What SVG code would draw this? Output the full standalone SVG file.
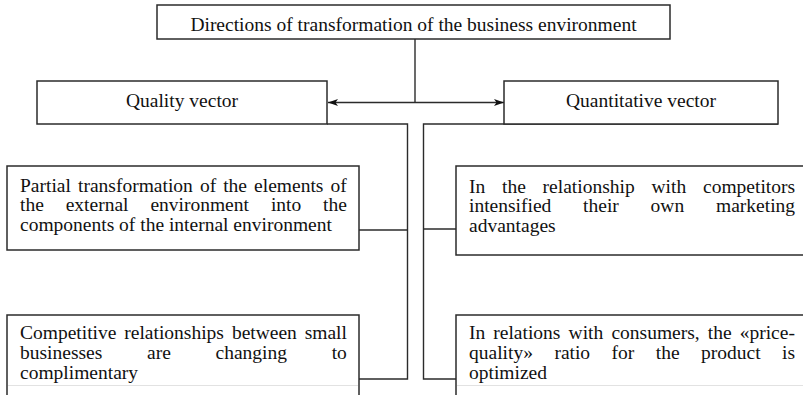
<svg xmlns="http://www.w3.org/2000/svg" width="803" height="395" viewBox="0 0 803 395">
  <style>
    .box { fill: #ffffff; stroke: #2b2b2b; stroke-width: 1.5; }
    .ln { fill: none; stroke: #2b2b2b; stroke-width: 1.4; }
    .t { font-family: "Liberation Serif", "Times New Roman", serif; font-size: 19.5px; fill: #111; }
    .c { text-anchor: middle; }
    .cut { fill: none; stroke: #e2e2e2; stroke-width: 1; }
  </style>
  <defs>
    <marker id="ah" viewBox="0 0 10 7" refX="10" refY="3.5" markerWidth="10" markerHeight="7" markerUnits="userSpaceOnUse" orient="auto-start-reverse">
      <path d="M0,0 L10,3.5 L0,7 L2.5,3.5 z" fill="#111"/>
    </marker>
    <clipPath id="clipBottom">
      <rect x="0" y="0" width="803" height="385"/>
    </clipPath>
  </defs>
  <rect width="803" height="395" fill="#ffffff"/>

  <g id="connectors">
    <path class="ln" d="M415,39 V102.5"/>
    <path class="ln" d="M328,102.5 H504" marker-start="url(#ah)" marker-end="url(#ah)"/>
    <path class="ln" d="M327,124 H407.5 V379 H359"/>
    <path class="ln" d="M407.5,230 H359"/>
    <path class="ln" d="M778,124 H423.5 V379 H456"/>
    <path class="ln" d="M423.5,229 H456"/>
  </g>

  <g id="root">
    <rect class="box" x="157" y="5" width="513" height="34"/>
    <text class="t c" x="413.5" y="31">Directions of transformation of the business environment</text>
  </g>

  <g id="quality">
    <rect class="box" x="37" y="81" width="290" height="43"/>
    <text class="t c" x="182" y="107">Quality vector</text>
  </g>

  <g id="quantitative">
    <rect class="box" x="504" y="81" width="274" height="43"/>
    <text class="t c" x="641" y="107">Quantitative vector</text>
  </g>

  <g id="q1">
    <rect class="box" x="7" y="166" width="352" height="84"/>
    <text class="t" y="191.5"><tspan x="20">Partial</tspan><tspan x="78">transformation</tspan><tspan x="199.9">of</tspan><tspan x="223.2">the</tspan><tspan x="254.1">elements</tspan><tspan x="330.5">of</tspan></text>
    <text class="t" y="211"><tspan x="20">the</tspan><tspan x="65.7">external</tspan><tspan x="150.4">environment</tspan><tspan x="270.9">into</tspan><tspan x="323.1">the</tspan></text>
    <text class="t" x="20" y="230.5">components of the internal environment</text>
  </g>

  <g id="n1">
    <rect class="box" x="456" y="166" width="360" height="89"/>
    <text class="t" y="192.5"><tspan x="469">In</tspan><tspan x="502">the</tspan><tspan x="542.6">relationship</tspan><tspan x="651.5">with</tspan><tspan x="703">competitors</tspan></text>
    <text class="t" y="212"><tspan x="469">intensified</tspan><tspan x="583.1">their</tspan><tspan x="650.6">own</tspan><tspan x="716">marketing</tspan></text>
    <text class="t" x="469" y="231.5">advantages</text>
  </g>

  <g id="q2">
    <rect class="box" x="7" y="315" width="352" height="90"/>
    <g clip-path="url(#clipBottom)">
      <text class="t" y="339"><tspan x="20">Competitive</tspan><tspan x="124.3">relationships</tspan><tspan x="231.9">between</tspan><tspan x="304.7">small</tspan></text>
      <text class="t" y="359"><tspan x="20">businesses</tspan><tspan x="147">are</tspan><tspan x="215.5">changing</tspan><tspan x="331.7">to</tspan></text>
      <text class="t" x="20" y="379">complimentary</text>
    </g>
    <path class="cut" d="M8,385.5 H358"/>
  </g>

  <g id="n2">
    <rect class="box" x="456" y="315" width="360" height="90"/>
    <g clip-path="url(#clipBottom)">
      <text class="t" y="339"><tspan x="469">In</tspan><tspan x="493.3">relations</tspan><tspan x="568.6">with</tspan><tspan x="611.4">consumers,</tspan><tspan x="707.8">the</tspan><tspan x="739.7">«price-</tspan></text>
      <text class="t" y="359"><tspan x="469">quality»</tspan><tspan x="554.4">ratio</tspan><tspan x="611.6">for</tspan><tspan x="655.8">the</tspan><tspan x="701">product</tspan><tspan x="782.1">is</tspan></text>
      <text class="t" x="469" y="379">optimized</text>
    </g>
    <path class="cut" d="M457,385.5 H803"/>
  </g>
</svg>
